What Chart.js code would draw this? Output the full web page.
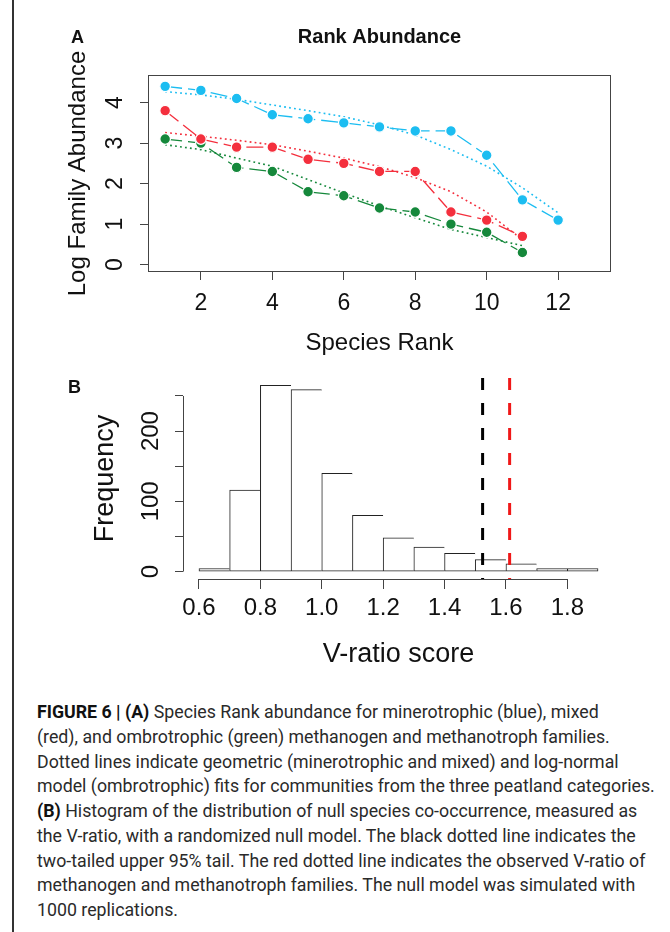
<!DOCTYPE html>
<html>
<head>
<meta charset="utf-8">
<script src="https://cdn.jsdelivr.net/npm/chart.js@4.4.1/dist/chart.umd.min.js"></script>
<style>
html, body { margin: 0; padding: 0; background: #fff; }
body { width: 670px; height: 932px; position: relative; overflow: hidden; }
canvas { position: absolute; left: 0; top: 0; }
#rule { position: absolute; left: 12px; top: 0; width: 2px; height: 932px; background: #333; }
#caption { position: absolute; left: 37px; top: 700px; color: #2a2a2a;
  font-family: Roboto, "Liberation Sans", sans-serif; font-size: 17px; line-height: 24.75px; }
#caption div { white-space: nowrap; }
#caption b { font-weight: 700; color: #111; }
</style>
</head>
<body>
<div id="rule"></div>
<canvas id="rank" width="670" height="690"></canvas>
<canvas id="hist" width="670" height="690"></canvas>
<div id="caption">
  <div><b>FIGURE 6 | (A)</b> Species Rank abundance for minerotrophic (blue), mixed</div>
  <div>(red), and ombrotrophic (green) methanogen and methanotroph families.</div>
  <div>Dotted lines indicate geometric (minerotrophic and mixed) and log-normal</div>
  <div>model (ombrotrophic) fits for communities from the three peatland categories.</div>
  <div><b>(B)</b> Histogram of the distribution of null species co-occurrence, measured as</div>
  <div>the V-ratio, with a randomized null model. The black dotted line indicates the</div>
  <div id="longest">two-tailed upper 95% tail. The red dotted line indicates the observed V-ratio of</div>
  <div>methanogen and methanotroph families. The null model was simulated with</div>
  <div>1000 replications.</div>
</div>
<script>
// ---- panel A: rank abundance ----
const ranks = [1, 2, 3, 4, 5, 6, 7, 8, 9, 10, 11, 12];
const minerotrophic = [4.4, 4.3, 4.1, 3.7, 3.6, 3.5, 3.4, 3.3, 3.3, 2.7, 1.6, 1.1];
const mixed = [3.8, 3.1, 2.9, 2.9, 2.6, 2.5, 2.3, 2.3, 1.3, 1.1, 0.7];
const ombrotrophic = [3.1, 3.0, 2.4, 2.3, 1.8, 1.7, 1.4, 1.3, 1.0, 0.8, 0.3];
const minerotrophicFit = [4.27, 4.19, 4.08, 3.94, 3.8, 3.65, 3.45, 3.2, 2.84, 2.43, 1.9, 1.28];
const mixedFit = [3.26, 3.17, 3.07, 2.96, 2.8, 2.63, 2.42, 2.15, 1.8, 1.3, 0.62];
const ombrotrophicFit = [2.96, 2.84, 2.63, 2.43, 2.1, 1.77, 1.45, 1.16, 0.87, 0.67, 0.47];
const rankTicks = [2, 4, 6, 8, 10, 12];
const abundanceTicks = [0, 1, 2, 3, 4];

// ---- panel B: V-ratio histogram ----
const binEdges = [0.6, 0.7, 0.8, 0.9, 1.0, 1.1, 1.2, 1.3, 1.4, 1.5, 1.6, 1.7, 1.8, 1.9];
const binCounts = [2, 116, 265, 259, 140, 80, 48, 35, 26, 17, 11, 2, 2];
const vTicks = [0.6, 0.8, 1.0, 1.2, 1.4, 1.6, 1.8];
const freqTicks = [0, 50, 100, 150, 200, 250];
const freqLabels = [0, 100, 200];
const tailCutoff = 1.524;   // black dashed line
const observedV = 1.612;    // red dashed line

const BLUE = '#1cbdf1', RED = '#f42f3d', GREEN = '#15883b';
const axisColor = '#444', textColor = '#111';
const FONT = '"Liberation Sans", Arial, sans-serif';

const pts = (xs, ys) => ys.map((v, i) => ({x: xs[i], y: v}));

function vText(ctx, text, x, y) {
  ctx.save();
  ctx.translate(x, y);
  ctx.rotate(-Math.PI / 2);
  ctx.fillText(text, 0, 0);
  ctx.restore();
}

function seriesLine(data, color) {
  return {
    data: pts(ranks, data), borderColor: color, borderWidth: 1.3, borderDash: [17, 6],
    pointRadius: 5.3, pointBackgroundColor: color, pointBorderColor: '#fff', pointBorderWidth: 1.2
  };
}
function fitLine(data, color) {
  return { data: pts(ranks, data), borderColor: color, borderWidth: 1.6, borderDash: [1.8, 3.2], pointRadius: 0 };
}

const rankFrame = {
  id: 'rankFrame',
  afterDraw(chart) {
    const {ctx, chartArea: a} = chart;
    const x = chart.scales.x, y = chart.scales.y;
    ctx.save();
    ctx.strokeStyle = axisColor;
    ctx.lineWidth = 1;
    ctx.strokeRect(a.left + 0.5, a.top + 0.5, a.right - a.left - 1, a.bottom - a.top - 1);
    ctx.fillStyle = textColor;
    ctx.textAlign = 'center';
    ctx.textBaseline = 'alphabetic';
    ctx.font = '23px ' + FONT;
    rankTicks.forEach(v => ctx.fillText(String(v), x.getPixelForValue(v), a.bottom + 38));
    abundanceTicks.forEach(v => vText(ctx, String(v), a.left - 26, y.getPixelForValue(v)));
    ctx.font = '24px ' + FONT;
    ctx.fillText('Species Rank', (a.left + a.right) / 2, a.bottom + 78);
    vText(ctx, 'Log Family Abundance', a.left - 63, (a.top + a.bottom) / 2);
    ctx.font = 'bold 20px ' + FONT;
    ctx.fillText('Rank Abundance', (a.left + a.right) / 2, a.top - 32);
    ctx.font = 'bold 18px ' + FONT;
    ctx.textAlign = 'left';
    ctx.fillText('A', 71, 43);
    ctx.restore();
  }
};

new Chart(document.getElementById('rank'), {
  type: 'line',
  data: {
    datasets: [
      seriesLine(minerotrophic, BLUE),
      seriesLine(mixed, RED),
      seriesLine(ombrotrophic, GREEN),
      fitLine(minerotrophicFit, BLUE),
      fitLine(mixedFit, RED),
      fitLine(ombrotrophicFit, GREEN)
    ]
  },
  options: {
    responsive: false,
    animation: false,
    layout: { padding: { left: 0, top: 75, right: 59, bottom: 398 } },
    plugins: { legend: { display: false }, tooltip: { enabled: false } },
    scales: {
      x: {
        type: 'linear', min: 0.52, max: 13.48,
        afterBuildTicks: s => { s.ticks = rankTicks.map(v => ({value: v})); },
        afterFit: s => { s.height = 20; },
        ticks: { display: false },
        border: { display: false },
        grid: { drawOnChartArea: false, tickLength: 8, color: axisColor }
      },
      y: {
        min: -0.18, max: 4.68,
        afterBuildTicks: s => { s.ticks = abundanceTicks.map(v => ({value: v})); },
        afterFit: s => { s.width = 148; },
        ticks: { display: false },
        border: { display: false },
        grid: { drawOnChartArea: false, tickLength: 8, color: axisColor }
      }
    }
  },
  plugins: [rankFrame]
});

const histFrame = {
  id: 'histFrame',
  afterDraw(chart) {
    const {ctx, chartArea: a} = chart;
    const x = chart.scales.x, y = chart.scales.y;
    ctx.save();
    ctx.strokeStyle = axisColor;
    ctx.lineWidth = 1;
    ctx.beginPath();
    ctx.moveTo(a.left + 0.5, y.getPixelForValue(freqTicks[0]));
    ctx.lineTo(a.left + 0.5, y.getPixelForValue(freqTicks[freqTicks.length - 1]));
    ctx.moveTo(x.getPixelForValue(vTicks[0]), a.bottom + 0.5);
    ctx.lineTo(x.getPixelForValue(vTicks[vTicks.length - 1]), a.bottom + 0.5);
    ctx.stroke();
    ctx.fillStyle = textColor;
    ctx.textAlign = 'center';
    ctx.textBaseline = 'alphabetic';
    ctx.font = '24px ' + FONT;
    vTicks.forEach(v => ctx.fillText(v.toFixed(1), x.getPixelForValue(v), a.bottom + 36));
    freqLabels.forEach(v => vText(ctx, String(v), a.left - 25, y.getPixelForValue(v)));
    ctx.font = '27px ' + FONT;
    ctx.fillText('V-ratio score', (a.left + a.right) / 2, a.bottom + 83);
    vText(ctx, 'Frequency', a.left - 70, (a.top + a.bottom) / 2);
    ctx.font = 'bold 18px ' + FONT;
    ctx.textAlign = 'left';
    ctx.fillText('B', 68, 393);
    ctx.restore();
  }
};

const freqMin = -10.6, freqMax = 275.6;
const lastBin = binCounts.length - 1;

new Chart(document.getElementById('hist'), {
  type: 'bar',
  data: {
    datasets: [
      {
        type: 'line', data: [{x: tailCutoff, y: freqMax}, {x: tailCutoff, y: freqMin}],
        borderColor: '#000', borderWidth: 3, borderDash: [12, 13], pointRadius: 0
      },
      {
        type: 'line', data: [{x: observedV, y: freqMax}, {x: observedV, y: freqMin}],
        borderColor: '#f01818', borderWidth: 3, borderDash: [12, 13], pointRadius: 0
      },
      {
        data: binCounts.map((c, i) => ({x: (binEdges[i] + binEdges[i + 1]) / 2, y: c})),
        backgroundColor: '#fff', borderColor: '#222',
        borderWidth: ctx => ({top: 1, left: 1, bottom: 1, right: ctx.dataIndex === lastBin ? 1 : 0}),
        borderSkipped: false, barPercentage: 1, categoryPercentage: 1, grouped: false,
        minBarLength: 3
      }
    ]
  },
  options: {
    responsive: false,
    animation: false,
    layout: { padding: { left: 0, top: 378, right: 56, bottom: 91 } },
    plugins: { legend: { display: false }, tooltip: { enabled: false } },
    scales: {
      x: {
        type: 'linear', min: 0.548, max: 1.952, offset: false,
        afterBuildTicks: s => { s.ticks = vTicks.map(v => ({value: v})); },
        afterFit: s => { s.height = 20; },
        ticks: { display: false },
        border: { display: false },
        grid: { offset: false, drawOnChartArea: false, tickLength: 10, color: axisColor }
      },
      y: {
        min: freqMin, max: freqMax,
        afterBuildTicks: s => { s.ticks = freqTicks.map(v => ({value: v})); },
        afterFit: s => { s.width = 183; },
        ticks: { display: false },
        border: { display: false },
        grid: { drawOnChartArea: false, tickLength: 8, color: axisColor }
      }
    }
  },
  plugins: [histFrame]
});

// fit caption lines to the column width
const longest = document.getElementById('longest');
const cap = document.getElementById('caption');
const w = longest.getBoundingClientRect().width;
cap.style.fontSize = (17 * 618 / w).toFixed(2) + 'px';
</script>
</body>
</html>
